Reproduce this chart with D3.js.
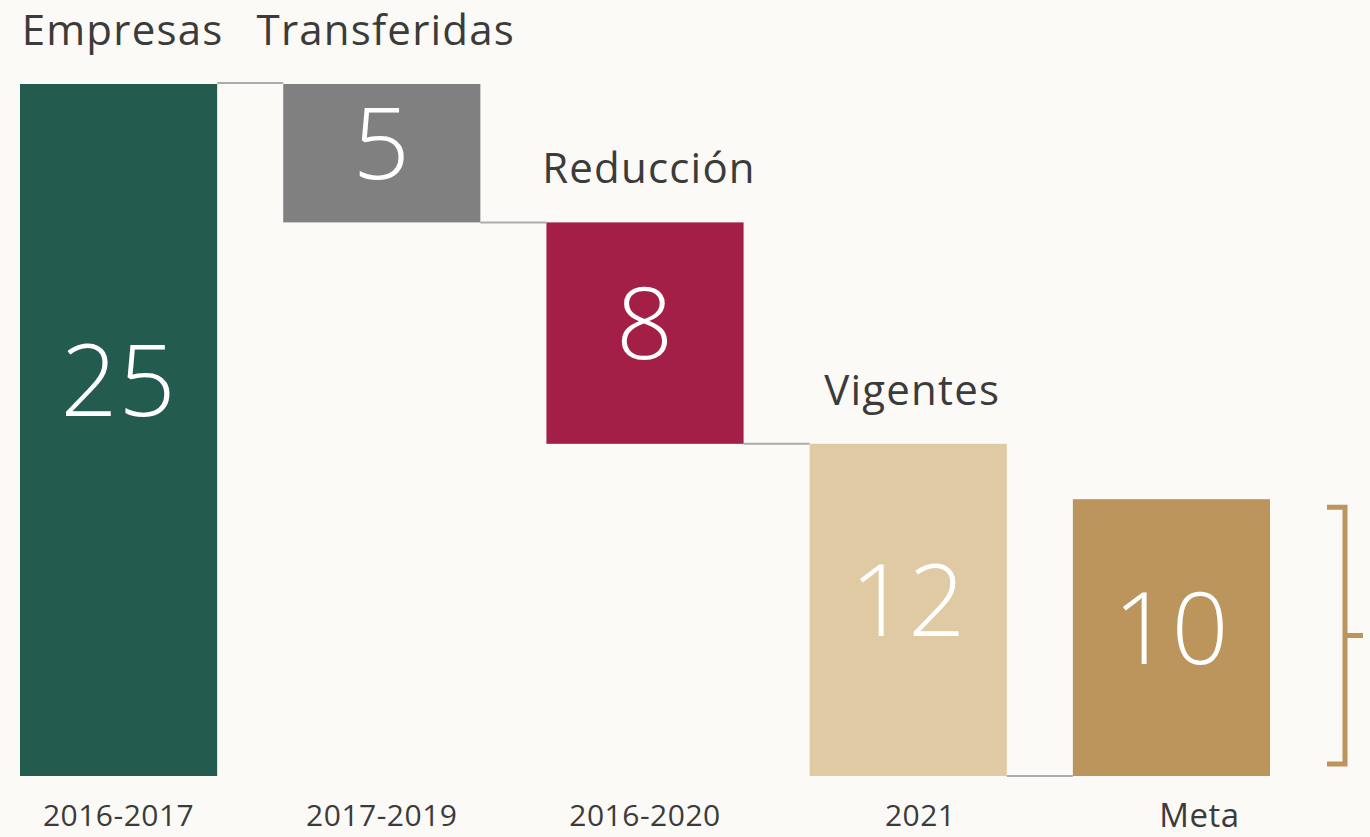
<!DOCTYPE html>
<html>
<head>
<meta charset="utf-8">
<script src="https://cdn.jsdelivr.net/npm/d3@7"></script>
<style>
  html, body { margin: 0; padding: 0; background: #fbfaf6; }
  svg { display: block; }
</style>
</head>
<body>
<svg id="chart" width="1370" height="837"></svg>
<script>
// ---- data ----
const categories = ["2016-2017", "2017-2019", "2016-2020", "2021", "Meta"];
const topLabels = ["Empresas", "Transferidas", "Reducción", "Vigentes", ""];
const values = [25, 5, 8, 12, 10];
const kinds = ["total", "decrease", "decrease", "total", "total"];
const colors = ["#235B4E", "#808080", "#A31F45", "#DFCAA3", "#BC955C"];

// ---- layout ----
const W = 1370, H = 837;
const svg = d3.select("#chart");
svg.append("rect").attr("width", W).attr("height", H).attr("fill", "#fbfaf6");

const x = d3.scaleBand().domain(categories).range([20, 1270]).paddingInner(0.251).paddingOuter(0);
const y = d3.scaleLinear().domain([0, 25]).range([776, 84]);

// compute waterfall segments
let running = 0;
const bars = categories.map((c, i) => {
  let y0, y1;
  if (kinds[i] === "total") { y0 = 0; y1 = values[i]; running = values[i]; }
  else { y1 = running; y0 = running - values[i]; running = y0; }
  return { cat: c, label: topLabels[i], value: values[i], y0, y1, color: colors[i], kind: kinds[i] };
});

// connectors
const connectors = [];
for (let i = 0; i < bars.length - 1; i++) {
  const a = bars[i], b = bars[i + 1];
  let level;
  if (b.kind === "decrease") level = b.y1;
  else if (a.kind === "decrease" && b.y1 === a.y0) level = a.y0;
  else level = 0;
  connectors.push({ a, b, level });
}

const font = "'Open Sans', 'Noto Sans', sans-serif";

svg.append("g").selectAll("line").data(connectors).join("line")
  .attr("x1", d => x(d.a.cat) + x.bandwidth())
  .attr("x2", d => x(d.b.cat))
  .attr("y1", d => y(d.level) - (d.level === 25 ? 1 : 0))
  .attr("y2", d => y(d.level) - (d.level === 25 ? 1 : 0))
  .attr("stroke", "#acacac").attr("stroke-width", 2);

svg.append("g").selectAll("rect").data(bars).join("rect")
  .attr("x", d => x(d.cat))
  .attr("width", x.bandwidth())
  .attr("y", d => y(d.y1))
  .attr("height", d => y(d.y0) - y(d.y1))
  .attr("fill", d => d.color);

// value labels
svg.append("g").selectAll("text").data(bars).join("text")
  .attr("x", d => x(d.cat) + x.bandwidth() / 2)
  .attr("y", d => {
    const top = y(d.y1), h = y(d.y0) - y(d.y1);
    return top + Math.min(h / 2 - 9, 297);
  })
  .attr("dy", "0.35em")
  .attr("text-anchor", "middle")
  .attr("fill", "#ffffff")
  .attr("font-family", font)
  .attr("font-weight", 300)
  .attr("font-size", 100)
  .attr("letter-spacing", 1)
  .text(d => d.value);

// top labels
svg.append("g").selectAll("text").data(bars.filter(d => d.label)).join("text")
  .attr("x", d => x(d.cat) + x.bandwidth() / 2 + 4)
  .attr("y", d => y(d.y1) - 39)
  .attr("text-anchor", "middle")
  .attr("fill", "#3b3b3b")
  .attr("font-family", font)
  .attr("font-size", 42)
  .attr("letter-spacing", 1.2)
  .text(d => d.label);

// category labels (x axis)
const xAxis = d3.axisBottom(x).tickSize(0).tickPadding(0);
const axisG = svg.append("g").attr("transform", "translate(0,776)").call(xAxis);
axisG.select(".domain").remove();
axisG.selectAll("text")
  .attr("y", 0)
  .attr("dy", null)
  .attr("transform", d => d === "Meta" ? "translate(28,51)" : d === "2021" ? "translate(12,50)" : "translate(0,50)")
  .attr("fill", "#3b3b3b")
  .attr("font-family", font)
  .attr("font-size", d => d === "Meta" ? 33 : 30)
  .attr("letter-spacing", 0.5)
  .style("dominant-baseline", "auto");

// bracket on the right side of the Meta bar
const meta = bars[bars.length - 1];
const bx = x(meta.cat) + x.bandwidth() + 75;
const bTop = y(meta.y1) + 8, bBot = y(meta.y0) - 12;
svg.append("path")
  .attr("d", `M${bx - 18},${bTop} H${bx} V${bBot} H${bx - 18} M${bx},${(bTop + bBot) / 2} H${bx + 18}`)
  .attr("fill", "none").attr("stroke", "#BC955C").attr("stroke-width", 5);
</script>
</body>
</html>
